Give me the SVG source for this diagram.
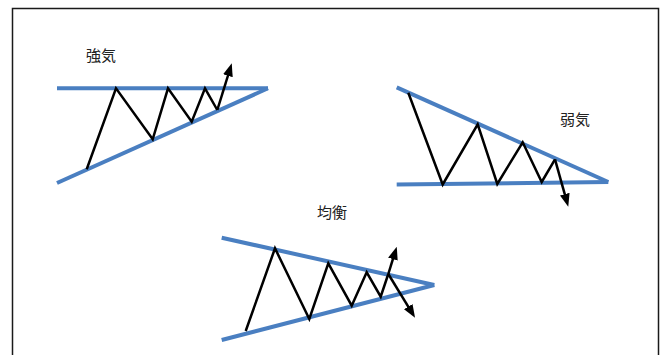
<svg xmlns="http://www.w3.org/2000/svg" width="661" height="355" viewBox="0 0 661 355">
<style>
.frame{fill:#fff;stroke:#1a1a1a;stroke-width:1.5}
.trend{fill:none;stroke:#4a7fc1;stroke-width:4;stroke-linecap:butt}
.price{fill:none;stroke:#000;stroke-width:2.5;stroke-linejoin:miter;stroke-linecap:butt}
.label{font-family:"Noto Sans CJK JP","Noto Sans CJK SC",sans-serif;font-size:15px;fill:#222}
</style>
<defs>
<marker id="ah" viewBox="0 0 13 10" refX="2" refY="5" markerWidth="13" markerHeight="10" markerUnits="userSpaceOnUse" orient="auto">
<path d="M0,0 L13,5 L0,10 Z" fill="#000"/>
</marker>
</defs>
<rect class="frame" x="12.5" y="8.5" width="646" height="360"/>
<g id="bullish">
<line class="trend" x1="57" y1="88.3" x2="268" y2="88.3"/>
<line class="trend" x1="57" y1="183" x2="268" y2="88.3"/>
<polyline class="price" points="86.7,169.3 116,88.3 152.7,139.3 168,88.3 191.7,121.7 205,88.3 217.3,110"/>
<line class="price" x1="217.3" y1="110" x2="228.5" y2="73.8" marker-end="url(#ah)"/>
<text class="label" x="86" y="61">強気</text>
</g>
<g id="bearish">
<line class="trend" x1="396.7" y1="87.3" x2="608.3" y2="182"/>
<line class="trend" x1="396.7" y1="184.5" x2="608.3" y2="182"/>
<polyline class="price" points="408.3,92.7 442.7,184.5 477.7,124.3 497.3,184 522.7,142.3 541.7,182 555,159.3"/>
<line class="price" x1="555" y1="159.3" x2="565.3" y2="196.1" marker-end="url(#ah)"/>
<text class="label" x="560" y="125">弱気</text>
</g>
<g id="symmetric">
<line class="trend" x1="221.7" y1="237.7" x2="434.3" y2="285"/>
<line class="trend" x1="221.7" y1="340" x2="434.3" y2="285"/>
<polyline class="price" points="245.7,331 275,248.3 309.3,319 328.3,263.3 351.7,305.7 366.7,272.3 380.7,296.7 388.3,274"/>
<g id="connectors">
<line class="price" x1="388.3" y1="274" x2="393.5" y2="257.2" marker-end="url(#ah)"/>
<line class="price" x1="388.3" y1="274" x2="409.3" y2="308.3" marker-end="url(#ah)"/>
</g>
<text class="label" x="317" y="218">均衡</text>
</g>
</svg>
